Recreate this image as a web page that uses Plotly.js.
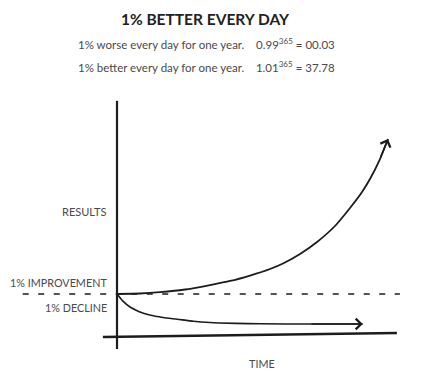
<!DOCTYPE html>
<html>
<head>
<meta charset="utf-8">
<script src="https://cdn.plot.ly/plotly-3.0.1.min.js"></script>
<style>html,body{margin:0;padding:0;background:#fff;}#chart{width:435px;height:381px;}</style>
</head>
<body>
<div id="chart"></div>
<script>
// Time in days, results as a relative index (1 = starting level, the dashed line)
const improveDays   = [0, 31, 58, 91.6, 125.3, 152.2, 179.1, 206.1, 223.6, 246.5, 269.4, 293.6, 313.8, 330, 340.7, 354.2, 365];
const improveValues = [1.0, 1.012, 1.043, 1.107, 1.214, 1.31, 1.44, 1.595, 1.726, 1.952, 2.238, 2.619, 3.048, 3.429, 3.738, 4.214, 4.69];
const declineDays   = [0, 8, 17.5, 30, 44, 62, 81, 103, 125, 160, 193, 260, 331];
const declineValues = [1.0, 0.83, 0.69, 0.58, 0.50, 0.44, 0.40, 0.35, 0.32, 0.30, 0.29, 0.285, 0.285];
const baselineDays  = [-127, 381];
const baselineValues = [1, 1];
const timeAxisDays  = [-19, 377];
const timeAxisValues = [-0.024, 0.071];
const resultAxisDays = [0, 0];
const resultAxisValues = [-0.31, 5.6];

const titleText = "1% BETTER EVERY DAY";
const worseLine = "1% worse every day for one year.\u00a0\u00a0\u00a0\u00a00.99<sup>365</sup> = 00.03";
const betterLine = "1% better every day for one year.\u00a0\u00a0\u00a0\u00a01.01<sup>365</sup> = 37.78";
const yLabel = "RESULTS";
const improveLabel = "1% IMPROVEMENT";
const declineLabel = "1% DECLINE";
const xLabel = "TIME";

const ink = "#1c1c1c";
const textCol = "#4a4a4a";
const fontFam = "Lato, 'Open Sans', sans-serif";

const traces = [
  {x: resultAxisDays, y: resultAxisValues, mode: "lines", line: {color: ink, width: 2.2}, hoverinfo: "skip"},
  {x: timeAxisDays, y: timeAxisValues, mode: "lines", line: {color: ink, width: 2.4}, hoverinfo: "skip"},
  {x: baselineDays, y: baselineValues, mode: "lines", line: {color: ink, width: 1.7, dash: "6px,9.5px"}, hoverinfo: "skip"},
  {x: improveDays, y: improveValues, mode: "lines", line: {color: ink, width: 1.8, shape: "spline", smoothing: 0.6}, hoverinfo: "skip"},
  {x: declineDays, y: declineValues, mode: "lines", line: {color: ink, width: 1.6, shape: "spline", smoothing: 0.6}, hoverinfo: "skip"}
];

function arrowAnn(xs, ys) {
  const n = xs.length;
  return {
    x: xs[n - 1], y: ys[n - 1], ax: xs[n - 2], ay: ys[n - 2],
    xref: "x", yref: "y", axref: "x", ayref: "y",
    text: "", showarrow: true, arrowhead: 4, arrowsize: 1.3, arrowwidth: 1.6, arrowcolor: ink
  };
}

function label(text, px, py, anchor, size, color, extra) {
  return Object.assign({
    text: text, xref: "paper", yref: "paper", x: px / 435, y: 1 - py / 381,
    xanchor: anchor, yanchor: "middle", showarrow: false,
    font: {family: fontFam, size: size, color: color}
  }, extra || {});
}

const layout = {
  width: 435, height: 381,
  margin: {l: 0, r: 0, t: 0, b: 0},
  paper_bgcolor: "#fff", plot_bgcolor: "#fff",
  showlegend: false,
  title: {text: "<b>" + titleText + "</b>", x: 205 / 435, xanchor: "center", xref: "paper",
          y: 1 - 20 / 381, yref: "container", yanchor: "middle",
          font: {family: fontFam, size: 15.5, color: "#222"}},
  xaxis: {range: [-157.6, 428.3], visible: false, fixedrange: true},
  yaxis: {range: [-1.0714, 8.0], visible: false, fixedrange: true},
  annotations: [
    arrowAnn(improveDays, improveValues),
    arrowAnn(declineDays, declineValues),
    label(worseLine, 206, 44, "center", 11.5, textCol),
    label(betterLine, 206, 66, "center", 11.5, textCol),
    label(yLabel, 108, 211, "right", 11, textCol),
    label(improveLabel, 109, 282, "right", 10.8, textCol),
    label(declineLabel, 109, 307, "right", 10.8, textCol),
    label(xLabel, 262, 363, "center", 10.8, textCol)
  ]
};

Plotly.newPlot("chart", traces, layout, {displayModeBar: false, staticPlot: true});
</script>
</body>
</html>
